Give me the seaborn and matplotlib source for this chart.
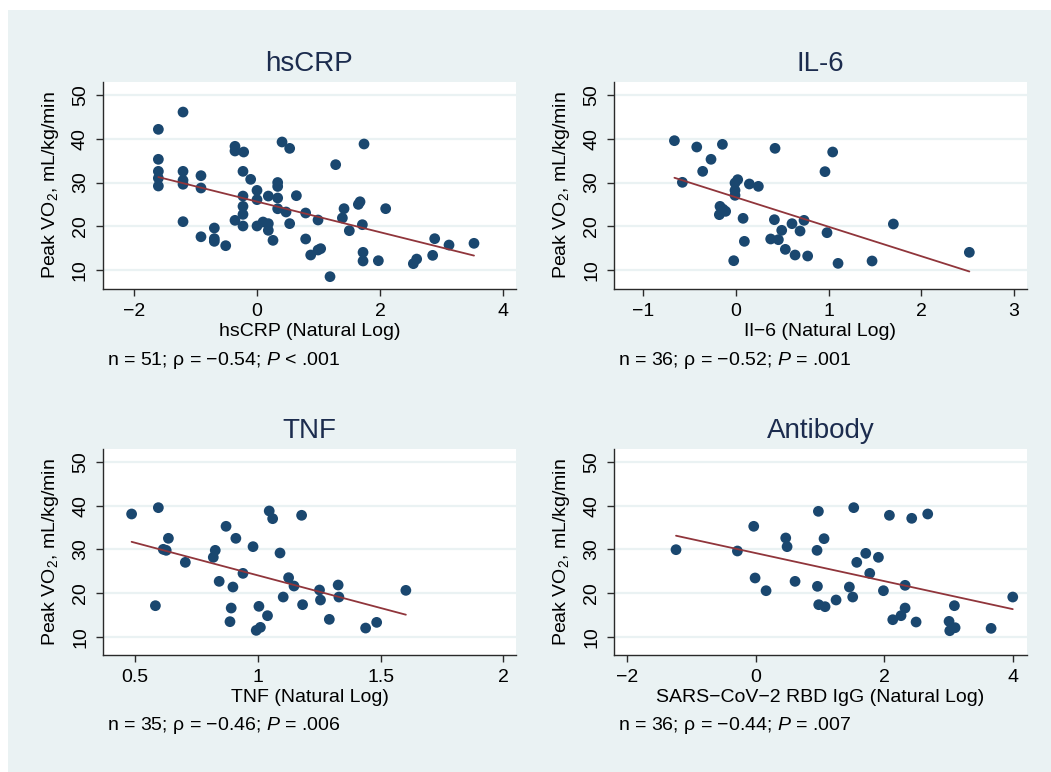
import numpy as np
import pandas as pd
import matplotlib
matplotlib.use("Agg")
import matplotlib.pyplot as plt
from matplotlib.patches import Rectangle
import seaborn as sns

# ---------------- data ----------------
hscrp_x = [-1.604, -1.203, -1.604, -1.604, -1.604, -1.604, -1.203, -1.203, -1.203, -0.911,
           -0.911, -1.203, -0.911, -0.694, -0.694, -0.694, -0.509, -0.358, -0.358, -0.217,
           -0.228, -0.103, -0.228, -0.228, -0.228, -0.358, -0.228, 0.000, 0.000, 0.000,
           0.098, 0.184, 0.184, 0.184, 0.260, 0.336, 0.336, 0.336, 0.336, 0.407,
           0.531, 0.472, 0.531, 0.640, 0.791, 0.791, 0.873, 0.992, 0.992, 1.035,
           1.187, 1.279, 1.415, 1.388, 1.501, 1.648, 1.675, 1.740, 1.713, 1.724,
           1.724, 1.973, 2.092, 2.542, 2.596, 2.856, 2.889, 3.122, 3.528]
hscrp_y = [42.15, 46.10, 35.30, 32.55, 31.00, 29.20, 32.55, 30.50, 29.60, 31.56,
           28.74, 21.05, 17.60, 19.60, 17.16, 16.55, 15.56, 38.27, 37.20, 36.97,
           32.55, 30.72, 26.90, 24.55, 22.72, 21.35, 20.06, 28.20, 26.08, 20.06,
           20.97, 26.90, 20.60, 19.07, 16.78, 30.00, 29.10, 26.46, 24.00, 39.26,
           37.80, 23.26, 20.60, 26.99, 23.03, 17.09, 13.43, 21.43, 14.57, 14.88,
           8.48, 34.08, 24.02, 21.89, 18.99, 25.00, 25.60, 38.80, 20.36, 14.04,
           12.06, 12.13, 24.02, 11.45, 12.50, 13.35, 17.16, 15.71, 16.10]

il6_x = [-0.665, -0.579, -0.424, -0.270, -0.360, -0.147, -0.173, -0.180, -0.112, -0.140,
         -0.025, -0.011, 0.018, -0.011, -0.011, 0.076, 0.090, 0.144, 0.241, 0.421,
         0.414, 0.374, 0.457, 0.493, 0.532, 0.604, 0.637, 0.691, 0.734, 0.773,
         0.960, 0.982, 1.043, 1.101, 1.468, 1.698, 2.518]
il6_y = [39.56, 30.04, 38.11, 35.30, 32.55, 38.72, 24.55, 22.65, 23.41, 23.90,
         12.13, 29.89, 30.65, 28.21, 27.07, 21.81, 16.55, 29.66, 29.12, 37.81,
         21.50, 17.09, 16.93, 19.07, 14.72, 20.59, 13.43, 18.91, 21.35, 13.20,
         32.48, 18.53, 36.97, 11.52, 12.06, 20.51, 14.04]

tnf_x = [0.485, 0.594, 0.582, 0.635, 0.614, 0.626, 0.704, 0.826, 0.818, 0.870,
         0.910, 0.842, 0.898, 0.939, 0.891, 0.886, 0.980, 1.004, 0.993, 1.010,
         1.039, 1.046, 1.060, 1.090, 1.103, 1.125, 1.147, 1.178, 1.182, 1.251,
         1.255, 1.291, 1.327, 1.330, 1.439, 1.484, 1.603]
tnf_y = [38.09, 39.54, 17.10, 32.52, 30.00, 29.77, 27.02, 29.77, 28.17, 35.27,
         32.52, 22.67, 21.37, 24.50, 16.56, 13.44, 30.61, 16.95, 11.45, 12.14,
         14.81, 38.78, 37.02, 29.16, 19.08, 23.51, 21.60, 37.79, 17.33, 20.69,
         18.40, 13.97, 21.83, 19.08, 11.98, 13.28, 20.61]

ab_x = [-1.240, -0.285, -0.031, -0.010, 0.161, 0.467, 0.488, 0.612, 0.975, 0.954,
        1.063, 0.960, 0.980, 1.079, 1.250, 1.457, 1.509, 1.525, 1.572, 1.712,
        1.774, 1.909, 1.987, 2.080, 2.132, 2.261, 2.324, 2.324, 2.427, 2.495,
        2.676, 3.008, 3.019, 3.102, 3.091, 3.662, 3.999]
ab_y = [29.92, 29.62, 35.27, 23.44, 20.53, 32.60, 30.61, 22.67, 38.70, 29.77,
        32.44, 21.53, 17.33, 16.87, 18.40, 21.37, 19.08, 39.54, 27.02, 29.08,
        24.50, 28.17, 20.53, 37.79, 13.89, 14.81, 16.56, 21.76, 37.10, 13.36,
        38.09, 13.51, 11.37, 12.06, 17.10, 11.91, 19.08]

titles = ["hsCRP", "IL-6", "TNF", "Antibody"]
xlabels = ["hsCRP (Natural Log)", "Il\u22126 (Natural Log)", "TNF (Natural Log)",
           "SARS\u2212CoV\u22122 RBD IgG (Natural Log)"]
notes = ["n = 51; \u03c1 = \u22120.54; $\\mathit{P}$ < .001",
         "n = 36; \u03c1 = \u22120.52; $\\mathit{P}$ = .001",
         "n = 35; \u03c1 = \u22120.46; $\\mathit{P}$ = .006",
         "n = 36; \u03c1 = \u22120.44; $\\mathit{P}$ = .007"]
xticks = [[-2, 0, 2, 4], [-1, 0, 1, 2, 3], [0.5, 1, 1.5, 2], [-2, 0, 2, 4]]
xticklabels = [["\u22122", "0", "2", "4"], ["\u22121", "0", "1", "2", "3"],
               ["0.5", "1", "1.5", "2"], ["\u22122", "0", "2", "4"]]
yticks = [10, 20, 30, 40, 50]
ylabel = "Peak VO$_\\mathregular{2}$, mL/kg/min"

# ---------------- styling ----------------
sns.set_theme(style="white")
plt.rcParams["font.family"] = ["Liberation Sans", "DejaVu Sans"]
plt.rcParams["mathtext.fontset"] = "custom"
plt.rcParams["mathtext.rm"] = "Liberation Sans"
plt.rcParams["mathtext.it"] = "Liberation Sans:italic"
plt.rcParams["mathtext.default"] = "regular"

BG = "#EAF2F3"
NAVY = "#1A476F"
MAROON = "#90353B"
TITLE_C = "#1C2C4E"

W, H = 1051, 772
fig = plt.figure(figsize=(W / 100, H / 100), dpi=100, facecolor="white")
fig.patches.append(Rectangle((8 / W, 0), 1, 1 - 10 / H, transform=fig.transFigure,
                             facecolor=BG, edgecolor="none", zorder=-10))

# axes boxes in pixels: (left, top, right, bottom)
boxes = [(102.7, 82, 516, 289), (614, 82, 1026.7, 289),
         (103.3, 449.3, 516, 655), (614, 449.3, 1026.7, 655)]
xlims = [(-2.509, 4.211), (-1.317, 3.137), (0.3696, 2.052), (-2.205, 4.216)]
ylims = [(5.66, 52.97), (5.66, 52.97), (5.81, 52.9), (5.81, 52.9)]

data = [(hscrp_x, hscrp_y), (il6_x, il6_y), (tnf_x, tnf_y), (ab_x, ab_y)]

for i, (xs, ys) in enumerate(data):
    l, t, r, b = boxes[i]
    ax = fig.add_axes([l / W, 1 - b / H, (r - l) / W, (b - t) / H])
    ax.set_facecolor("white")
    df = pd.DataFrame({"x": xs, "y": ys})
    ax.set_ylim(*ylims[i])
    ax.set_xlim(*xlims[i])
    for yv in yticks:
        ax.axhline(yv, color=BG, lw=1.6, zorder=0)
    sns.scatterplot(data=df, x="x", y="y", ax=ax, color=NAVY, s=60,
                    edgecolor="none", linewidth=0, zorder=3)
    sns.regplot(data=df, x="x", y="y", ax=ax, scatter=False, ci=None, truncate=True,
                line_kws=dict(color=MAROON, lw=1.3, zorder=4))
    ax.set_xlim(*xlims[i])
    ax.set_ylim(*ylims[i])
    ax.set_xticks(xticks[i])
    ax.set_xticklabels(xticklabels[i])
    ax.set_yticks(yticks)
    ax.set_yticklabels([str(v) for v in yticks])
    for sp in ["top", "right"]:
        ax.spines[sp].set_visible(False)
    for sp in ["left", "bottom"]:
        ax.spines[sp].set_color("#2a2a2a")
        ax.spines[sp].set_linewidth(1.0)
    ax.tick_params(axis="both", which="major", direction="out", length=5, width=1.0,
                   color="#2a2a2a", labelsize=14, labelcolor="black", pad=5,
                   left=True, bottom=True)
    ax.tick_params(axis="y", labelrotation=90)
    for lab in ax.get_yticklabels():
        lab.set_va("center")
    ax.set_xlabel(xlabels[i], fontsize=14, color="black", labelpad=2)
    ax.set_ylabel(ylabel, fontsize=14, color="black", labelpad=8)
    ax.set_title(titles[i], fontsize=20, color=TITLE_C, pad=8)
    ax.text(0.01, -0.343, notes[i], transform=ax.transAxes, fontsize=14,
            ha="left", va="center", color="black")

fig.savefig("out.png", dpi=100, facecolor=fig.get_facecolor())
